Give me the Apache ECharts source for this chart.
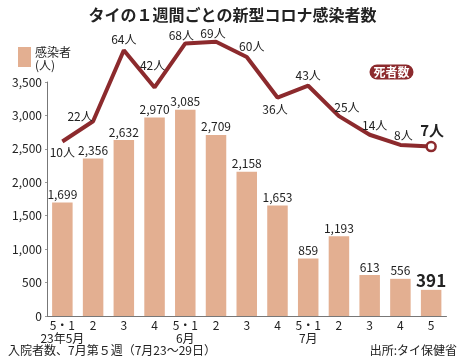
<!DOCTYPE html>
<html><head><meta charset="utf-8">
<script src="https://cdn.jsdelivr.net/npm/echarts@6/dist/echarts.min.js"></script>
<style>html,body{margin:0;padding:0;background:#fff;}#c{width:465px;height:364px;}</style>
</head><body><div id="c"></div>
<script>
const categories = ['5・1\n23年5月','2','3','4','5・1\n6月','2','3','4','5・1\n7月','2','3','4','5'];
const infections = [1699, 2356, 2632, 2970, 3085, 2709, 2158, 1653, 859, 1193, 613, 556, 391];
const deaths = [10, 22, 64, 42, 68, 69, 60, 36, 43, 25, 14, 8, 7];
const yTicks = [0, 500, 1000, 1500, 2000, 2500, 3000, 3500];

const NUM = "'Liberation Sans Narrow','Noto Sans CJK JP',sans-serif";
const JP = "'Noto Sans CJK JP',sans-serif";
const lineColor = '#8c2a2d';
const barColor = '#e3af91';
const labelOffsets = [[0,11],[-13,-5],[0,-11],[-2,-22],[-4,-8],[-3,-8],[5,-11],[-2.5,12],[0,-10],[8,-9],[5,-9],[3,-9],[1,-16]];

const last = deaths.length - 1;
const lineData = deaths.map((v, i) => ({
  value: v,
  symbol: i === last ? 'circle' : 'circle',
  symbolSize: i === last ? 9 : 0.5,
  itemStyle: i === last ? {color: '#fff', borderColor: lineColor, borderWidth: 2.5} : {color: lineColor, borderWidth: 0},
  label: {
    show: true, position: 'inside', offset: labelOffsets[i],
    formatter: v + '人',
    fontFamily: NUM, fontSize: i === last ? 15 : 12,
    fontWeight: i === last ? 'bold' : 'normal', color: '#222'
  }
}));
const barData = infections.map((v, i) => ({
  value: v,
  label: i === last ? {fontSize: 17, fontWeight: 'bold', distance: 1} : {}
}));

const chart = echarts.init(document.getElementById('c'), null, {renderer: 'canvas'});
chart.setOption({
  animation: false,
  backgroundColor: '#fff',
  title: {
    text: 'タイの１週間ごとの新型コロナ感染者数', left: 'center', top: 2,
    textStyle: {fontFamily: JP, fontSize: 16, fontWeight: 'bold', color: '#222'}
  },
  grid: {left: 47, right: 18.5, top: 82, bottom: 48},
  xAxis: {
    type: 'category', data: categories,
    axisLine: {lineStyle: {color: '#777', width: 1}},
    axisTick: {show: false},
    axisLabel: {fontFamily: NUM, fontSize: 12, color: '#222', lineHeight: 13, margin: 3, interval: 0}
  },
  yAxis: [{
    type: 'value', min: yTicks[0], max: yTicks[yTicks.length-1], interval: 500,
    axisLine: {show: true, lineStyle: {color: '#777', width: 1}},
    axisTick: {show: true, length: 2, lineStyle: {color: '#999'}},
    splitLine: {show: false},
    axisLabel: {fontFamily: NUM, fontSize: 12, color: '#222', margin: 5,
      formatter: v => v.toLocaleString('en-US')}
  }, {
    type: 'value', min: -93.2, max: 45.2, show: false, splitLine: {show: false}
  }],
  series: [{
    type: 'bar', data: barData, barWidth: 20.5,
    itemStyle: {color: barColor},
    label: {show: true, position: 'top', distance: 2, fontFamily: NUM, fontSize: 12, color: '#222',
      formatter: p => p.value.toLocaleString('en-US')}
  }, {
    type: 'line', yAxisIndex: 1, data: lineData, clip: false, z: 5,
    lineStyle: {color: lineColor, width: 4}, itemStyle: {color: lineColor}
  }],
  graphic: [
    {type: 'rect', shape: {x: 18, y: 47, width: 13, height: 20}, style: {fill: barColor}},
    {type: 'text', left: 35, top: 46, style: {text: '感染者', font: '12px ' + JP, fill: '#222'}},
    {type: 'text', left: 35, top: 59, style: {text: '(人)', font: '12px ' + JP, fill: '#222'}},
    {type: 'rect', shape: {x: 369.5, y: 64.5, width: 44, height: 15, r: 7.5}, style: {fill: lineColor}},
    {type: 'text', x: 391.5, y: 72, style: {text: '死者数', font: 'bold 12px ' + JP, fill: '#fff', align: 'center', verticalAlign: 'middle'}},
    {type: 'text', left: 8, top: 344, style: {text: '入院者数、7月第５週（7月23〜29日）', font: '12px ' + JP, fill: '#222'}},
    {type: 'text', right: 8, top: 344, style: {text: '出所:タイ保健省', font: '12px ' + JP, fill: '#222'}}
  ]
});
</script></body></html>
